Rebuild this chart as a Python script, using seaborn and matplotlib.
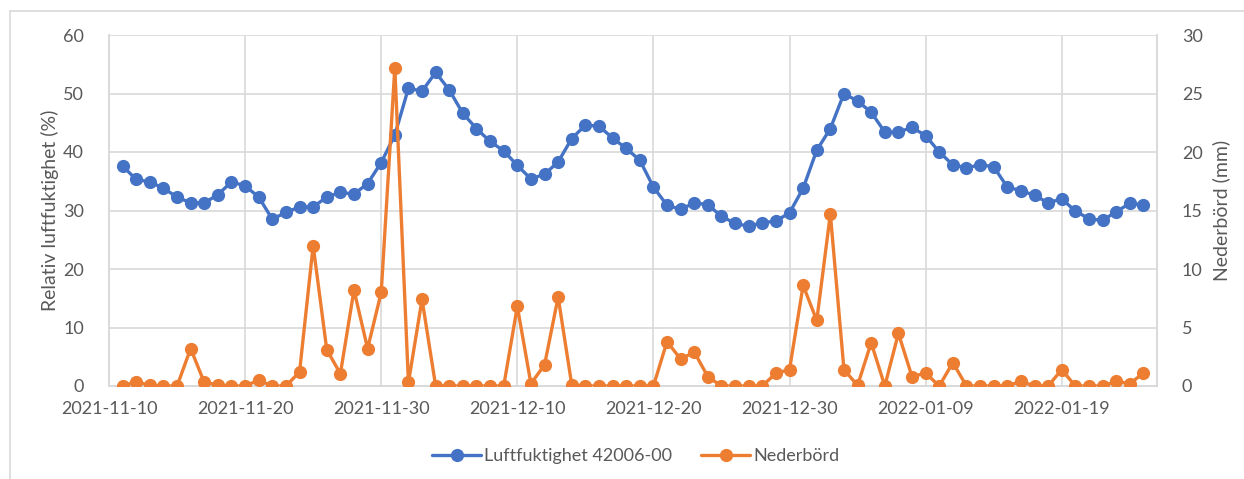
import numpy as np
import pandas as pd
import matplotlib
matplotlib.use("Agg")
import matplotlib.pyplot as plt
import matplotlib.dates as mdates
from matplotlib.lines import Line2D
import seaborn as sns

# ---------------- data ----------------
start_date = "2021-11-11"
n_days = 76
humidity = [37.6, 35.3, 34.9, 33.8, 32.3, 31.3, 31.3, 32.7, 34.9, 34.2,
            32.3, 28.5, 29.7, 30.6, 30.6, 32.3, 33.1, 32.8, 34.6, 38.2,
            42.9, 50.9, 50.4, 53.6, 50.6, 46.6, 44.0, 41.8, 40.2, 37.7,
            35.4, 36.2, 38.3, 42.3, 44.6, 44.4, 42.4, 40.6, 38.6, 34.0,
            30.9, 30.2, 31.3, 31.0, 29.0, 27.8, 27.3, 27.9, 28.2, 29.6,
            33.8, 40.3, 44.0, 50.0, 48.7, 46.8, 43.4, 43.4, 44.2, 42.8,
            40.0, 37.8, 37.3, 37.8, 37.5, 34.0, 33.4, 32.6, 31.3, 32.0,
            29.9, 28.6, 28.3, 29.8, 31.2, 31.0]
precip = [0.0, 0.37, 0.05, 0.0, 0.0, 3.2, 0.3, 0.1, 0.0, 0.0,
          0.5, 0.0, 0.0, 1.2, 12.0, 3.1, 1.05, 8.2, 3.2, 8.0,
          27.2, 0.3, 7.4, 0.0, 0.0, 0.0, 0.0, 0.0, 0.0, 6.8,
          0.2, 1.8, 7.6, 0.1, 0.0, 0.0, 0.0, 0.0, 0.0, 0.0,
          3.8, 2.3, 2.9, 0.8, 0.0, 0.0, 0.0, 0.0, 1.1, 1.4,
          8.6, 5.6, 14.7, 1.4, 0.05, 3.7, 0.0, 4.5, 0.8, 1.1,
          0.0, 2.0, 0.0, 0.0, 0.0, 0.0, 0.4, 0.0, 0.0, 1.4,
          0.0, 0.0, 0.0, 0.4, 0.2, 1.1]
tick_dates = ["2021-11-10", "2021-11-20", "2021-11-30", "2021-12-10",
              "2021-12-20", "2021-12-30", "2022-01-09", "2022-01-19"]
label_rh = "Luftfuktighet 42006-00"
label_pr = "Nederbörd"
ylabel_left = "Relativ luftfuktighet (%)"
ylabel_right = "Nederbörd (mm)"

dates = pd.date_range(start_date, periods=n_days, freq="D")
df = pd.DataFrame({"date": dates, "rh": humidity, "pr": precip})

# ---------------- style ----------------
sns.set_theme(style="white")
plt.rcParams["font.family"] = ["Lato", "DejaVu Sans"]
BLUE = "#4472C4"
ORANGE = "#ED7D31"
TXT = "#595959"
GRID = "#D9D9D9"
FS = 13
MS = 9.5
LW = 2.4

fig = plt.figure(figsize=(12.44, 4.79), dpi=100)
ax = fig.add_axes([109 / 1244, 1 - 386 / 479, (1157 - 109) / 1244, (386 - 35) / 479])
ax2 = ax.twinx()

sns.lineplot(data=df, x="date", y="rh", ax=ax, color=BLUE, marker="o",
             markersize=MS, markeredgewidth=0, linewidth=LW, zorder=3)
sns.lineplot(data=df, x="date", y="pr", ax=ax2, color=ORANGE, marker="o",
             markersize=MS, markeredgewidth=0, linewidth=LW, zorder=3)

ax.set_xlim(pd.Timestamp("2021-11-10"), pd.Timestamp("2022-01-26"))
ax.set_ylim(0, 60)
ax2.set_ylim(0, 30)
ax.set_yticks(np.arange(0, 61, 10))
ax2.set_yticks(np.arange(0, 31, 5))
ax.set_xticks([pd.Timestamp(d) for d in tick_dates])
ax.xaxis.set_major_formatter(mdates.DateFormatter("%Y-%m-%d"))

ax.grid(True, color=GRID, linewidth=1.2)
ax.set_axisbelow(True)
ax2.grid(False)

for a in (ax, ax2):
    for s in a.spines.values():
        s.set_color(GRID)
        s.set_linewidth(1.2)
    a.spines["top"].set_visible(False)

ax.tick_params(axis="both", length=0, labelsize=FS, colors=TXT)
ax.tick_params(axis="y", pad=18)
ax.tick_params(axis="x", pad=11)
ax2.tick_params(axis="y", length=0, labelsize=FS, colors=TXT, pad=18)

ax.set_xlabel("")
ax.set_ylabel(ylabel_left, fontsize=14, color=TXT, labelpad=3)
ax2.set_ylabel(ylabel_right, fontsize=14, color=TXT, labelpad=7)

handles = [Line2D([0], [0], color=BLUE, marker="o", markersize=MS, markeredgewidth=0, linewidth=LW),
           Line2D([0], [0], color=ORANGE, marker="o", markersize=MS, markeredgewidth=0, linewidth=LW)]
if ax.get_legend():
    ax.get_legend().remove()
fig.legend(handles, [label_rh, label_pr], loc="center", bbox_to_anchor=(636 / 1244, 1 - 456 / 479),
           ncol=2, frameon=False, fontsize=FS, labelcolor=TXT, handlelength=2.7,
           handletextpad=0.2, columnspacing=1.6)

# chart-area border (top and left visible)
fig.add_artist(Line2D([10 / 1244, 1.0], [1 - 11 / 479, 1 - 11 / 479], transform=fig.transFigure,
                      color=GRID, linewidth=1.2))
fig.add_artist(Line2D([10 / 1244, 10 / 1244], [0.0, 1 - 11 / 479], transform=fig.transFigure,
                      color=GRID, linewidth=1.2))

fig.savefig("out.png", dpi=100)
